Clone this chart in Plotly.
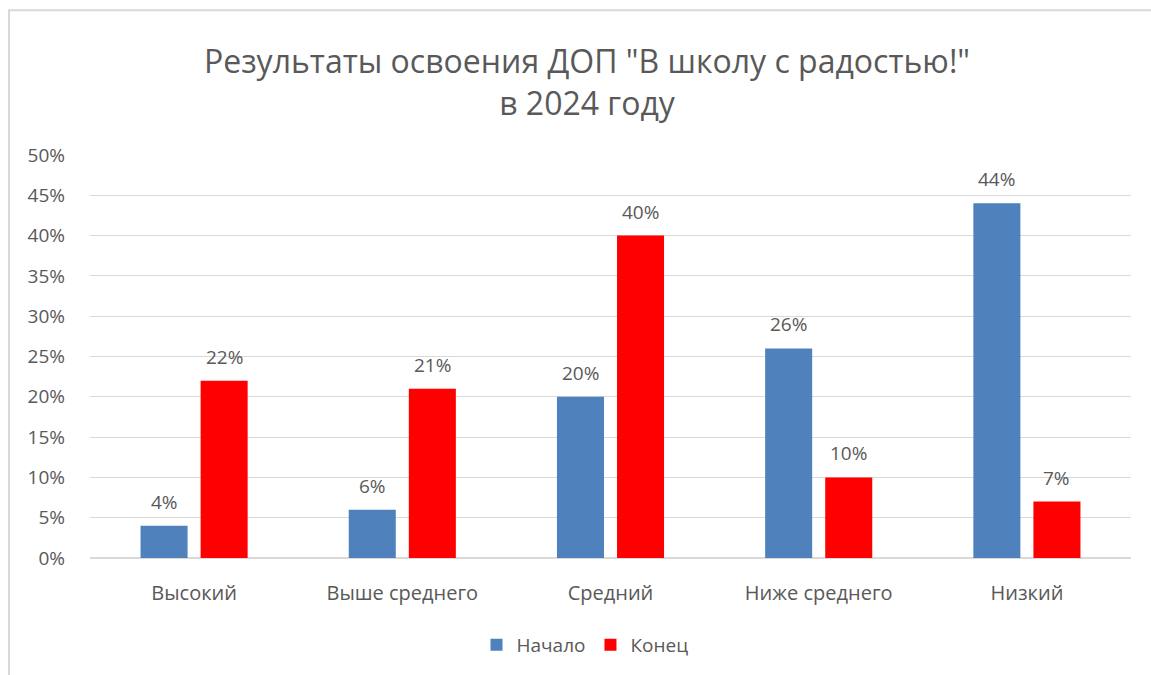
import plotly.graph_objects as go

categories = ["Высокий", "Выше среднего", "Средний", "Ниже среднего", "Низкий"]
start_vals = [4, 6, 20, 26, 44]
end_vals = [22, 21, 40, 10, 7]
series_names = ["Начало", "Конец"]
tick_vals = [0, 5, 10, 15, 20, 25, 30, 35, 40, 45, 50]
tick_text = [f"{v}%" for v in tick_vals]
title_text = "Результаты освоения ДОП \"В школу с радостью!\"<br>в 2024 году"

FONT = "Open Sans"
GRAY = "#595959"
COLORS = ["#4f81bd", "#ff0000"]

fig = go.Figure()
for name, vals, col in zip(series_names, [start_vals, end_vals], COLORS):
    fig.add_trace(go.Bar(
        x=categories, y=vals, name=name,
        marker=dict(color=col, line=dict(width=0)),
    ))

annotations = []
for vals, shift in [(start_vals, -30), (end_vals, 30)]:
    for c, v in zip(categories, vals):
        annotations.append(dict(x=c, y=v, xref="x", yref="y", text=f"{v}%", showarrow=False,
                                xshift=shift, yshift=24, yanchor="middle",
                                font=dict(family=FONT, size=19, color=GRAY)))

W, H = 1151, 675
L, R, T, B = 90, 20, 155, 116
pw = W - L - R
ph = H - T - B

fig.update_layout(
    width=W, height=H,
    margin=dict(l=L, r=R, t=T, b=B),
    paper_bgcolor="white", plot_bgcolor="white",
    barmode="group", bargap=0.423, bargroupgap=0.217,
    font=dict(family=FONT, color=GRAY, size=18),
    title=dict(text=title_text, x=587 / W, xanchor="center", y=1 - 73 / H, yanchor="middle",
               font=dict(family=FONT, size=32, color=GRAY)),
    legend=dict(orientation="h", x=(585 - L) / pw, xanchor="center", y=-(645 - (T + ph)) / ph,
                yanchor="middle", font=dict(family=FONT, size=19, color=GRAY),
                itemwidth=30, traceorder="normal"),
    annotations=annotations,
    xaxis=dict(showgrid=False, showline=False, ticks="", tickfont=dict(family=FONT, size=20, color=GRAY),
               ticklabelstandoff=21),
    yaxis=dict(range=[0, 50], tickvals=tick_vals, ticktext=tick_text, showgrid=True,
               gridcolor="#d9d9d9", gridwidth=1, zeroline=True, zerolinecolor="#d9d9d9",
               showline=False, ticks="", tickfont=dict(family=FONT, size=19, color=GRAY),
               ticklabelstandoff=24),
    shapes=[dict(type="rect", xref="paper", yref="paper",
                 x0=(9 - L) / pw, x1=(W + 5 - L) / pw,
                 y0=-(H + 5 - (T + ph)) / ph, y1=1 + (T - 10) / ph,
                 line=dict(color="#d9d9d9", width=2), fillcolor="rgba(0,0,0,0)", layer="below")],
)

fig.write_html("out.html")
